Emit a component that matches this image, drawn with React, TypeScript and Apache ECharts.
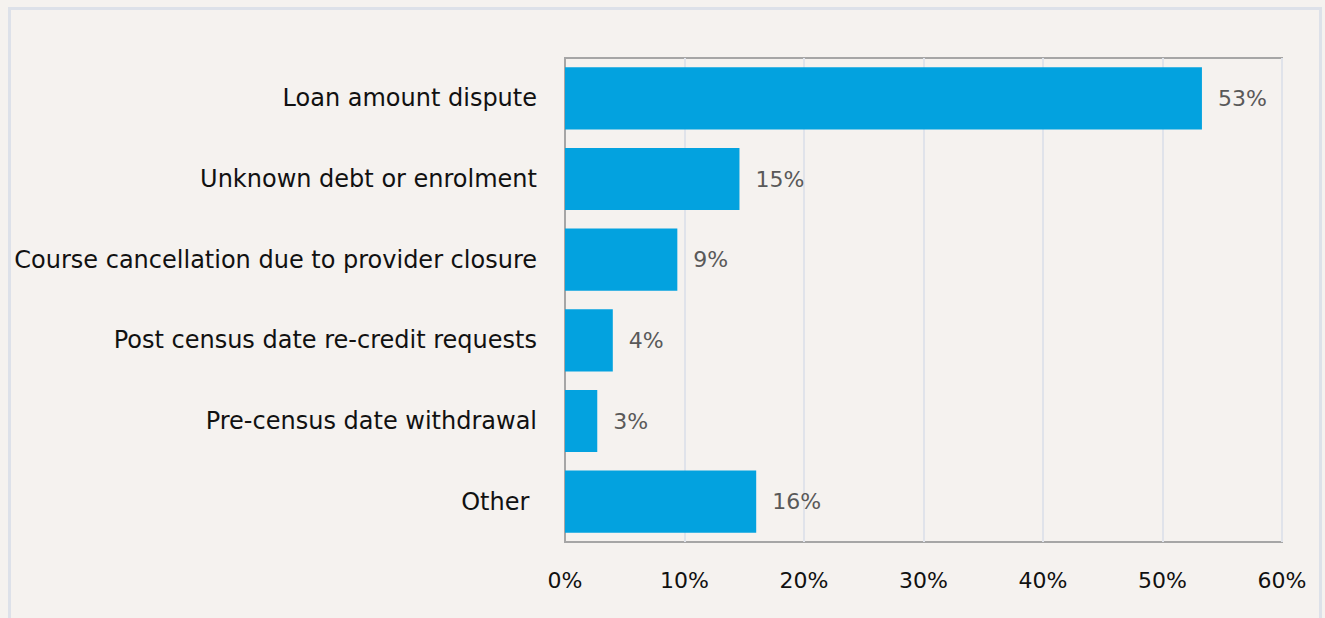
import React, { useEffect, useRef } from "react";
import * as echarts from "echarts";

const categories = [
  "Loan amount dispute",
  "Unknown debt or enrolment",
  "Course cancellation due to provider closure",
  "Post census date re-credit requests",
  "Pre-census date withdrawal",
  "Other ",
];
const values = [53.3, 14.6, 9.4, 4.0, 2.7, 16.0];
const tickMax = 60;
const tickStep = 10;

const FONT = "'DejaVu Sans', 'Noto Sans', sans-serif";

export default function App() {
  const ref = useRef<HTMLDivElement>(null);
  useEffect(() => {
    if (!ref.current) return;
    const chart = echarts.init(ref.current, null, { renderer: "svg" });
    chart.setOption({
      animation: false,
      backgroundColor: "transparent",
      textStyle: { fontFamily: FONT },
      grid: {
        left: 554,
        right: 37,
        top: 48,
        bottom: 76,
        show: true,
        borderColor: "#a6a6a6",
        borderWidth: 2,
        backgroundColor: "transparent",
      },
      xAxis: {
        type: "value",
        min: 0,
        max: tickMax,
        interval: tickStep,
        axisLine: { show: false },
        axisTick: { show: false },
        splitLine: { show: true, lineStyle: { color: "#e0e3ea", width: 2 } },
        axisLabel: {
          formatter: "{value}%",
          color: "#111",
          fontSize: 22,
          margin: 27,
          fontFamily: FONT,
        },
      },
      yAxis: {
        type: "category",
        data: categories,
        inverse: true,
        axisLine: { show: true, lineStyle: { color: "#a6a6a6", width: 2 } },
        axisTick: { show: false },
        axisLabel: {
          color: "#111",
          fontSize: 24,
          margin: 28,
          fontFamily: FONT,
        },
      },
      series: [
        {
          type: "bar",
          data: values,
          barWidth: "77%",
          itemStyle: { color: "#03a2df" },
          label: {
            show: true,
            position: "right",
            distance: 16,
            color: "#595959",
            fontSize: 22,
            fontFamily: FONT,
            formatter: (p: any) => `${Math.round(p.value)}%`,
          },
        },
      ],
    });
    return () => chart.dispose();
  }, []);
  return (
    <div
      style={{
        position: "absolute",
        left: 0,
        top: 0,
        width: 1325,
        height: 618,
        background: "#f5f2ef",
        overflow: "hidden",
      }}
    >
      <div
        style={{
          position: "absolute",
          left: 8,
          top: 7,
          width: 1308,
          height: 640,
          border: "3px solid #dde1e9",
          boxSizing: "content-box",
        }}
      >
        <div ref={ref} style={{ width: 1308, height: 608 }} />
      </div>
    </div>
  );
}
